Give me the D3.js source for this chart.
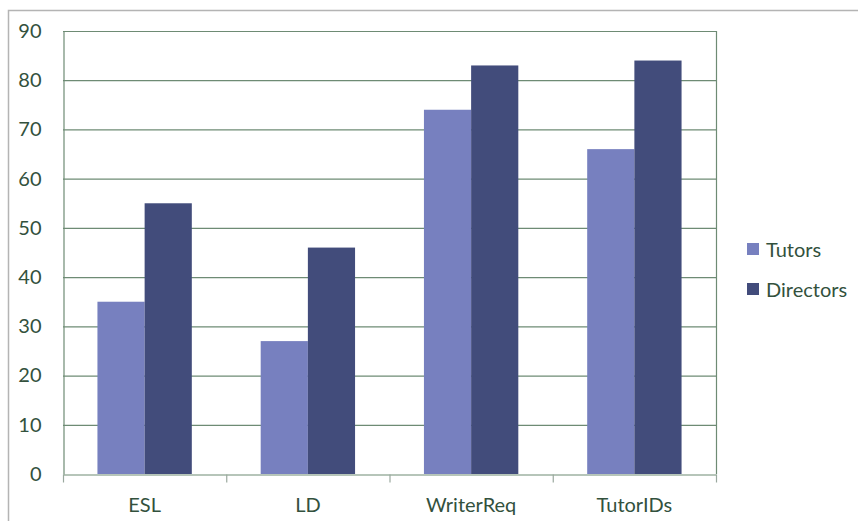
<!DOCTYPE html>
<html>
<body style="margin: 0">
  <script src="https://d3js.org/d3.v7.min.js"></script>

  <script>
    const CATEGORIES = ["ESL", "LD", "WriterReq", "TutorIDs"];
    const SERIES = ["Tutors", "Directors"];
    const TUTORS = [35, 27, 74, 66];
    const DIRECTORS = [55, 46, 83, 84];
    const Y_TICKS = [0, 10, 20, 30, 40, 50, 60, 70, 80, 90];
    const COLORS = ["#7780bf", "#424c7b"];

    const start = () => {
      const width = 858;
      const height = 521;
      const left = 63, right = 716, top = 31, bottom = 474;
      const font = "Lato, 'Open Sans', sans-serif";
      const textColor = "#33513d";
      const gridColor = "#6e8b74";

      const rows = CATEGORIES.map((c, i) => ({cat: c, values: [TUTORS[i], DIRECTORS[i]]}));

      const svg = d3.select("body").append("svg")
        .attr("width", width)
        .attr("height", height);

      svg.append("rect")
        .attr("x", 8.5).attr("y", 10.5)
        .attr("width", 870).attr("height", 530)
        .style("fill", "white")
        .style("stroke", "#b4b4b4")
        .style("stroke-width", 1.5);

      const x = d3.scaleBand().domain(CATEGORIES).range([left, right]);
      const x1 = d3.scaleBand().domain(SERIES).range([0, x.bandwidth()]).paddingInner(0).paddingOuter(0.73);
      const y = d3.scaleLinear().domain([0, 90]).range([bottom, top]);

      // grid lines
      svg.append("g").selectAll("line")
        .data(Y_TICKS.filter((t) => t > 0))
        .enter().append("line")
        .attr("x1", left).attr("x2", right)
        .attr("y1", (d) => y(d) + 0.5).attr("y2", (d) => y(d) + 0.5)
        .style("stroke", gridColor)
        .style("stroke-width", 1.2);

      // right border of plot
      svg.append("line")
        .attr("x1", right + 0.5).attr("x2", right + 0.5)
        .attr("y1", top).attr("y2", bottom)
        .style("stroke", gridColor).style("stroke-width", 1.2);

      // bars
      const groups = svg.append("g").selectAll("g")
        .data(rows)
        .enter().append("g")
        .attr("transform", (d) => `translate(${x(d.cat)},0)`);

      groups.selectAll("rect")
        .data((d) => d.values.map((v, i) => ({s: SERIES[i], v: v, i: i})))
        .enter().append("rect")
        .attr("x", (d) => x1(d.s))
        .attr("width", x1.bandwidth())
        .attr("y", (d) => y(d.v))
        .attr("height", (d) => y(0) - y(d.v))
        .style("fill", (d) => COLORS[d.i]);

      // y axis
      const yAxis = svg.append("g")
        .attr("transform", `translate(${left + 0.5},0)`)
        .call(d3.axisLeft(y).tickValues(Y_TICKS).tickSize(0).tickPadding(22));
      yAxis.select(".domain").style("stroke", gridColor).style("stroke-width", 1.2);
      yAxis.selectAll("text")
        .style("font-family", font).style("font-size", "20px").style("fill", textColor);

      // x axis
      const xAxis = svg.append("g")
        .attr("transform", `translate(0,${bottom + 0.5})`)
        .call(d3.axisBottom(x).tickSize(0).tickPadding(23));
      xAxis.select(".domain").style("stroke", gridColor).style("stroke-width", 1.2);
      xAxis.selectAll("text")
        .style("font-family", font).style("font-size", "20px").style("fill", textColor);

      const bounds = CATEGORIES.map((c) => x(c)).concat([right]);
      xAxis.selectAll(".sep")
        .data(bounds)
        .enter().append("line")
        .attr("class", "sep")
        .attr("x1", (d) => d + 0.5).attr("x2", (d) => d + 0.5)
        .attr("y1", 0).attr("y2", 8)
        .style("stroke", "#9aa89e").style("stroke-width", 1.2);

      // legend
      const legend = svg.append("g").selectAll("g")
        .data(SERIES)
        .enter().append("g")
        .attr("transform", (d, i) => `translate(747,${243 + i * 40})`);
      legend.append("rect")
        .attr("width", 12).attr("height", 12)
        .style("fill", (d, i) => COLORS[i]);
      legend.append("text")
        .attr("x", 19).attr("y", 7).attr("dy", "0.35em")
        .text((d) => d)
        .style("font-family", font).style("font-size", "20px").style("fill", textColor);
    };

    document.addEventListener("DOMContentLoaded", () => {
      start();
    }, false);
  </script>
</body>
</html>
